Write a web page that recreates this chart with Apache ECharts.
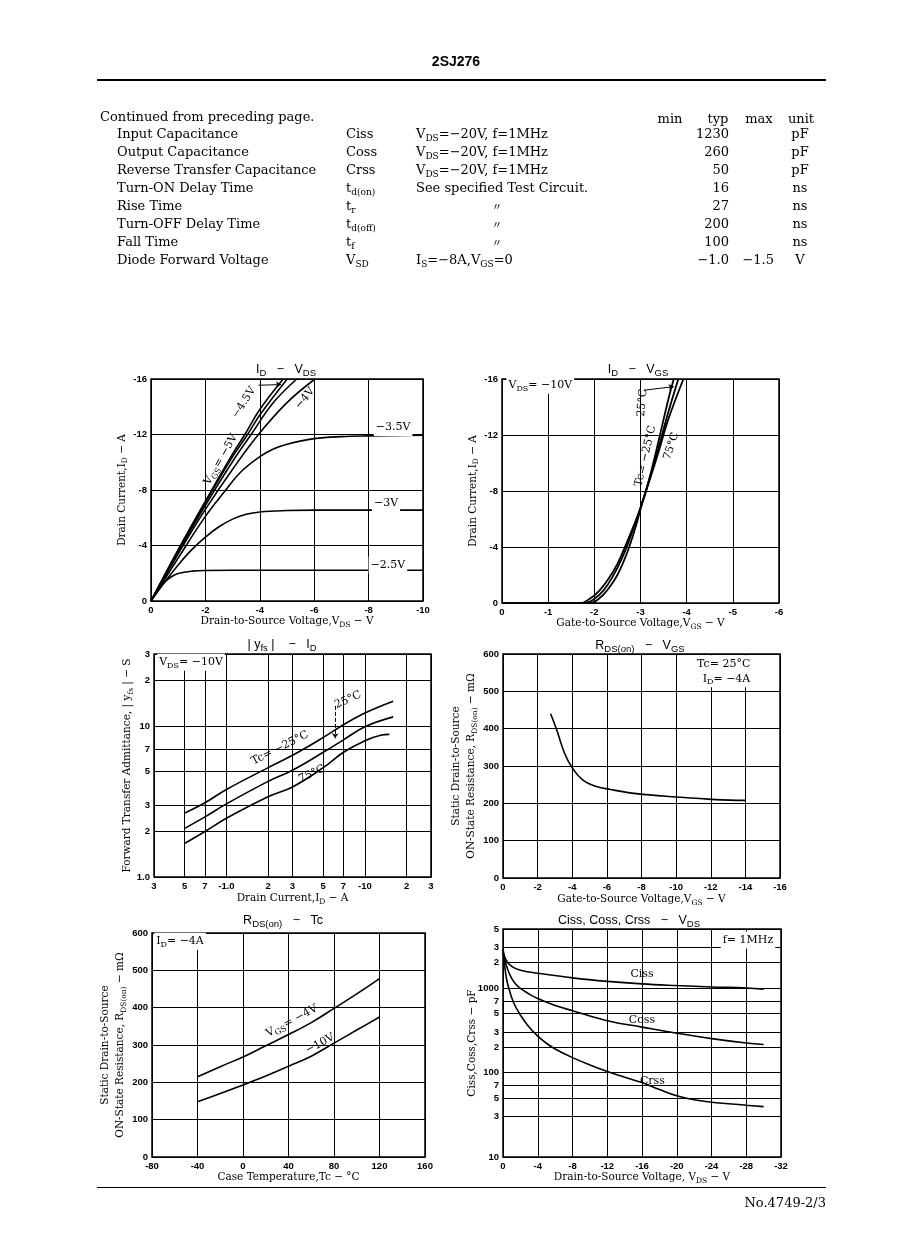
<!DOCTYPE html>
<html><head><meta charset="utf-8">
<script src="https://cdn.jsdelivr.net/npm/echarts/dist/echarts.min.js"></script>
<style>
html,body{margin:0;padding:0;background:#fff;}
#page{position:relative;width:898px;height:1260px;overflow:hidden;background:#fff;}
#chart{position:absolute;left:0;top:0;width:898px;height:1260px;}
.t{position:absolute;font-family:'DejaVu Serif',serif;font-size:13px;line-height:18px;color:#000;white-space:nowrap;}
.t sub{font-size:9px;vertical-align:-3px;line-height:0;}
.r{text-align:right;}
.c{text-align:center;}
.hl{position:absolute;background:#000;}
</style>
</head><body>
<div id="page"><div id="chart"></div></div>
<script>
// ================= DATA =================
// Header table
const tableParams = ["Input Capacitance","Output Capacitance","Reverse Transfer Capacitance","Turn-ON Delay Time","Rise Time","Turn-OFF Delay Time","Fall Time","Diode Forward Voltage"];
const tableSymbols = ["Ciss","Coss","Crss","t<sub>d(on)</sub>","t<sub>r</sub>","t<sub>d(off)</sub>","t<sub>f</sub>","V<sub>SD</sub>"];
const tableConds = ["V<sub>DS</sub>=−20V, f=1MHz","V<sub>DS</sub>=−20V, f=1MHz","V<sub>DS</sub>=−20V, f=1MHz","See specified Test Circuit.","〃","〃","〃","I<sub>S</sub>=−8A,V<sub>GS</sub>=0"];
const tableTyp = ["1230","260","50","16","27","200","100","−1.0"];
const tableMax = ["","","","","","","","−1.5"];
const tableUnit = ["pF","pF","pF","ns","ns","ns","ns","V"];

// Chart 1: ID - VDS  [VDS (V), ID (A)]
const idVdsGs10 = [[0,0],[-1,-3.7],[-2,-7.2],[-3,-10.6],[-3.45,-12],[-4,-13.8],[-4.86,-16]];
const idVdsGs5  = [[0,0],[-1,-3.65],[-2,-7.1],[-3,-10.4],[-3.55,-12],[-4,-13.4],[-5.01,-16]];
const idVdsGs45 = [[0,0],[-1,-3.55],[-2,-6.9],[-3,-10.05],[-3.68,-12],[-4.5,-14.3],[-5.36,-16]];
const idVdsGs4  = [[0,0],[-1,-3.4],[-2,-6.6],[-3,-9.5],[-3.95,-12],[-5,-14.3],[-6.03,-16]];
const idVdsGs35 = [[0,0],[-1,-3.1],[-2,-6.1],[-2.75,-8],[-3.3,-9.3],[-4,-10.4],[-4.5,-10.95],[-5,-11.3],[-6,-11.7],[-7,-11.85],[-8,-11.9],[-10,-11.95]];
const idVdsGs3  = [[0,0],[-0.5,-1.35],[-1,-2.6],[-1.5,-3.7],[-2,-4.6],[-2.5,-5.35],[-3,-5.9],[-3.5,-6.25],[-4,-6.42],[-5,-6.52],[-6,-6.55],[-10,-6.55]];
const idVdsGs25 = [[0,0],[-0.25,-0.75],[-0.5,-1.35],[-0.75,-1.75],[-1,-1.98],[-1.5,-2.15],[-2,-2.2],[-4,-2.22],[-10,-2.22]];

// Chart 2: ID - VGS  [VGS (V), ID (A)]
const idVgsTcM25 = [[0,0],[-1.9,0],[-2.1,-0.3],[-2.3,-1.0],[-2.5,-2.0],[-2.7,-3.5],[-2.9,-5.5],[-3.0,-6.7],[-3.2,-9.0],[-3.4,-11.7],[-3.6,-14.5],[-3.72,-16]];
const idVgsTc25  = [[0,0],[-1.8,0],[-2.0,-0.3],[-2.2,-0.9],[-2.4,-1.9],[-2.6,-3.2],[-2.8,-4.9],[-3.0,-6.8],[-3.2,-8.9],[-3.4,-11.2],[-3.6,-13.6],[-3.82,-16]];
const idVgsTc75  = [[0,0],[-1.7,0],[-1.9,-0.3],[-2.1,-0.85],[-2.3,-1.7],[-2.5,-2.8],[-2.7,-4.3],[-2.9,-5.9],[-3.0,-6.8],[-3.2,-8.8],[-3.4,-10.9],[-3.6,-13.1],[-3.93,-16]];

// Chart 3: |yfs| - ID  [|ID| (A), |yfs| (S)]
const yfsTcM25 = [[0.5,2.65],[0.7,3.1],[1,3.8],[2,5.3],[3,6.4],[5,8.4],[7,10.2],[10,12.2],[16,14.6]];
const yfsTc25  = [[0.5,2.1],[0.7,2.5],[1,3.05],[2,4.3],[3,5.1],[5,6.7],[7,8.1],[10,9.9],[16,11.5]];
const yfsTc75  = [[0.5,1.67],[0.7,2.0],[1,2.45],[2,3.4],[3,3.95],[5,5.3],[7,6.7],[10,8.0],[13,8.7],[15,8.8]];
const yfsXTicks = [0.3,0.5,0.7,1,2,3,5,7,10,20,30];
const yfsXTickLabels = ["3","5","7","-1.0","2","3","5","7","-10","2","3"];
const yfsYTicks = [1,2,3,5,7,10,20,30];
const yfsYTickLabels = ["1.0","2","3","5","7","10","2","3"];

// Chart 4: RDS(on) - VGS  [VGS (V), RDS (mΩ)]
const rdsVgs = [[-2.75,440],[-3.1,397],[-3.55,335],[-4,295],[-4.6,263],[-5.4,245],[-6.2,237],[-7.7,226],[-10,217],[-12.3,210],[-14,208]];

// Chart 5: RDS(on) - Tc  [Tc (°C), RDS (mΩ)]
const rdsTcGs4  = [[-40,215],[-20,242],[0,268],[20,298],[40,328],[60,360],[80,398],[100,437],[120,478]];
const rdsTcGs10 = [[-40,148],[-20,170],[0,193],[20,217],[40,243],[60,270],[80,305],[100,340],[120,375]];

// Chart 6: Ciss, Coss, Crss - VDS  [VDS (V), C (pF)]
const ciss = [[0,2900],[-0.3,2200],[-1,1800],[-2,1620],[-4,1500],[-8,1320],[-12,1200],[-16,1120],[-20,1070],[-24,1030],[-28,1000],[-30,970]];
const coss = [[0,2600],[-0.5,1700],[-1,1300],[-1.5,1100],[-2,990],[-3,850],[-4,750],[-6,620],[-8,540],[-12,410],[-16,345],[-20,292],[-24,252],[-28,224],[-30,215]];
const crss = [[0,2800],[-0.3,1500],[-0.6,1050],[-1.2,680],[-2,480],[-3,345],[-4,270],[-5,222],[-6,190],[-8,150],[-10,123],[-12,103],[-14,88],[-16,76],[-18,63],[-20,53],[-22,47.5],[-24,44.5],[-28,41],[-30,39.5]];
const capYTicks = [10,30,50,70,100,200,300,500,700,1000,2000,3000,5000];
const capYTickLabels = ["10","3","5","7","100","2","3","5","7","1000","2","3","5"];

// ================= HTML header / table =================
const page = document.getElementById('page');
function addText(html, left, top, cls, width){
  const d = document.createElement('div');
  d.className = 't ' + (cls||'');
  d.innerHTML = html;
  d.style.left = left + 'px'; d.style.top = (top - 9) + 'px';
  if (width) d.style.width = width + 'px';
  page.appendChild(d);
}
function addLine(x, y, w, h){
  const d = document.createElement('div'); d.className='hl';
  d.style.left=x+'px'; d.style.top=y+'px'; d.style.width=w+'px'; d.style.height=h+'px';
  page.appendChild(d);
}
(function(){
  const h = document.createElement('div');
  h.style.cssText = "position:absolute;left:0;width:912px;top:53px;text-align:center;font:bold 14px 'Liberation Sans',Arial,sans-serif;color:#000;";
  h.textContent = '2SJ276';
  page.appendChild(h);
  addLine(97, 79, 729, 2);
  addLine(97, 1187, 729, 1);
  addText('No.4749-2/3', 626, 1203, 'r', 200);
  addText('Continued from preceding page.', 100, 117);
  addText('min', 640, 119, 'c', 60);
  addText('typ', 688, 119, 'c', 60);
  addText('max', 729, 119, 'c', 60);
  addText('unit', 771, 119, 'c', 60);
  const rowY = [134,152,170,188,206,224,242,260];
  rowY.forEach((y,i)=>{
    addText(tableParams[i], 117, y);
    addText(tableSymbols[i], 346, y);
    if (tableConds[i] === '〃') addText('<span style="font-family:\'Noto Sans CJK JP\';font-size:10px">〃</span>', 467, y, 'c', 60);
    else addText(tableConds[i], 416, y);
    addText(tableTyp[i], 629, y, 'r', 100);
    if (tableMax[i]) addText(tableMax[i], 674, y, 'r', 100);
    addText(tableUnit[i], 770, y, 'c', 60);
  });
})();

// ================= ECHARTS =================
const SERIF = "'DejaVu Serif', serif";
const SANS = "'Liberation Sans', Arial, sans-serif";
const TICKF = "'Liberation Sans', Arial, sans-serif";
const RICH = {
  a: {fontFamily: SERIF, fontSize: 10.5, color: '#000', lineHeight: 15},
  s: {fontFamily: SERIF, fontSize: 7.5, color: '#000', verticalAlign: 'bottom'}
};
const NOTE_RICH = {
  a: {fontFamily: SERIF, fontSize: 11, color: '#000', lineHeight: 15},
  s: {fontFamily: SERIF, fontSize: 8, color: '#000', verticalAlign: 'bottom'}
};
const TITLE_RICH = {
  a: {fontFamily: SANS, fontSize: 12.5, color: '#000', lineHeight: 16},
  s: {fontFamily: SANS, fontSize: 9.5, color: '#000', verticalAlign: 'bottom'}
};

const gridsPos = [
  {left:151, top:379, width:272, height:222},
  {left:502, top:379, width:277, height:224},
  {left:154, top:654, width:277, height:223},
  {left:503, top:654, width:277, height:224},
  {left:152, top:933, width:273, height:224},
  {left:503, top:929, width:278, height:228}
];
const grid = gridsPos.map(g => Object.assign({show:true, borderColor:'#000', borderWidth:1.5, backgroundColor:'transparent', containLabel:false, outerBoundsMode:'none'}, g));

const labelStyle = {color:'#000', fontSize:9.5, fontWeight:'bold', fontFamily:TICKF, margin:4};
function valAxis(gi, o, name, nameGap){
  return Object.assign({
    type:'value', gridIndex:gi,
    axisLine:{show:false}, axisTick:{show:false},
    splitLine:{show:true, lineStyle:{color:'#000', width:1}},
    axisLabel:Object.assign({}, labelStyle),
    name:name, nameLocation:'middle', nameGap:nameGap,
    nameTextStyle:{fontFamily:SERIF, fontSize:10.5, color:'#000', rich:RICH}
  }, o);
}
function logAxis(gi, o, name, nameGap){
  return Object.assign({
    type:'log', logBase:10, gridIndex:gi,
    axisLine:{show:false}, axisTick:{show:false},
    splitLine:{show:false}, minorSplitLine:{show:false},
    axisLabel:{show:false},
    name:name, nameLocation:'middle', nameGap:nameGap,
    nameTextStyle:{fontFamily:SERIF, fontSize:10.5, color:'#000', rich:RICH}
  }, o);
}

const xAxis = [
  valAxis(0, {min:-10, max:0, interval:2, inverse:true}, '{a|Drain-to-Source Voltage,V}{s|DS}{a| − V}', 12),
  valAxis(1, {min:-6, max:0, interval:1, inverse:true}, '{a|Gate-to-Source Voltage,V}{s|GS}{a| − V}', 12),
  logAxis(2, {min:0.3, max:30}, '{a|Drain Current,I}{s|D}{a| − A}', 14),
  valAxis(3, {min:-16, max:0, interval:2, inverse:true}, '{a|Gate-to-Source Voltage,V}{s|GS}{a| − V}', 14),
  valAxis(4, {min:-80, max:160, interval:40}, '{a|Case Temperature,Tc − °C}', 12),
  valAxis(5, {min:-32, max:0, interval:4, inverse:true}, '{a|Drain-to-Source Voltage, V}{s|DS}{a| − V}', 12)
];
const yAxis = [
  valAxis(0, {min:-16, max:0, interval:4, inverse:true}, '{a|Drain Current,I}{s|D}{a| − A}', 19),
  valAxis(1, {min:-16, max:0, interval:4, inverse:true}, '{a|Drain Current,I}{s|D}{a| − A}', 20),
  logAxis(2, {min:1, max:30}, '{a|Forward Transfer Admittance, | y}{s|fs}{a| | − S}', 19),
  valAxis(3, {min:0, max:600, interval:100}, '{a|Static Drain-to-Source}\n{a|ON-State Resistance, R}{s|DS(on)}{a| − mΩ}', 24),
  valAxis(4, {min:0, max:600, interval:100}, '{a|Static Drain-to-Source}\n{a|ON-State Resistance, R}{s|DS(on)}{a| − mΩ}', 24),
  logAxis(5, {min:10, max:5000}, '{a|Ciss,Coss,Crss − pF}', 23)
];

function gridMarks(xVals, xLabels, xPos, yVals, yLabels, yPos){
  const data = [];
  (xVals||[]).forEach((v,i)=>data.push({xAxis:v, label:{formatter:xLabels[i], position:xPos}}));
  (yVals||[]).forEach((v,i)=>data.push({yAxis:v, label:{formatter:yLabels[i], position:yPos}}));
  return {silent:true, symbol:['none','none'], animation:false,
    lineStyle:{color:'#000', width:1, type:'solid'},
    label:{show:true, color:'#000', fontSize:9.5, fontWeight:'bold', fontFamily:TICKF, distance:4},
    emphasis:{disabled:true}, data:data};
}
function note(coord, text, rotate, extra){
  return {coord:coord, value:0, symbol:'circle', symbolSize:0,
    label:Object.assign({show:true, position:'inside', formatter:text, rotate:rotate||0, color:'#000',
      fontFamily:SERIF, fontSize:11, rich:NOTE_RICH}, extra||{})};
}
function notes(list){
  return {silent:true, symbol:'circle', symbolSize:0, itemStyle:{color:'transparent'}, emphasis:{disabled:true}, data:list, animation:false};
}
function arrow(from, to, curv, dashed){
  return {silent:true, symbol:['none','arrow'], symbolSize:5, animation:false,
    lineStyle:{color:'#000', width:1, type:dashed?'dashed':'solid', curveness:curv},
    label:{show:false}, emphasis:{disabled:true},
    data:[[{coord:from},{coord:to}]]};
}
function curve(gi, name, data, extra){
  return Object.assign({type:'line', name:name, xAxisIndex:gi, yAxisIndex:gi, data:data,
    showSymbol:false, symbol:'none', smooth:0.4,
    lineStyle:{color:'#000', width:1.6}, silent:true, animation:false}, extra||{});
}
const WHITE = {backgroundColor:'#fff', padding:[1,2,1,2]};

const series = [
  // chart 1
  curve(0,'VGS=-10V',idVdsGs10),
  curve(0,'VGS=-5V',idVdsGs5, {markPoint:notes([
    note([-2.57,-10.2],'{a|V}{s|GS}{a|= −5V}',60),
    note([-3.42,-14.3],'{a|−4.5V}',57),
    note([-5.66,-14.6],'{a|−4V}',50),
    note([-8.9,-12.5],'{a|−3.5V}',0,WHITE),
    note([-8.64,-7.06],'{a|−3V}',0,WHITE),
    note([-8.71,-2.6],'{a|−2.5V}',0,WHITE)
  ])}),
  curve(0,'VGS=-4.5V',idVdsGs45, {markLine:arrow([-3.95,-15.55],[-4.78,-15.6],-0.5,false)}),
  curve(0,'VGS=-4V',idVdsGs4),
  curve(0,'VGS=-3.5V',idVdsGs35),
  curve(0,'VGS=-3V',idVdsGs3),
  curve(0,'VGS=-2.5V',idVdsGs25),
  // chart 2
  curve(1,'Tc=-25°C',idVgsTcM25, {lineStyle:{color:'#000',width:1.8}, markPoint:notes([
    note([-0.83,-15.55],'{a|V}{s|DS}{a|= −10V}',0,WHITE),
    note([-3.04,-14.3],'{a|25°C}',85),
    note([-3.11,-10.5],'{a|Tc= −25°C}',77),
    note([-3.67,-11.2],'{a|75°C}',72)
  ])}),
  curve(1,'Tc=25°C',idVgsTc25, {lineStyle:{color:'#000',width:1.8}, markLine:arrow([-3.07,-15.2],[-3.72,-15.45],-0.5,false)}),
  curve(1,'Tc=75°C',idVgsTc75, {lineStyle:{color:'#000',width:1.8}}),
  // chart 3
  curve(2,'Tc=-25°C',yfsTcM25, {markLine:gridMarks(yfsXTicks,yfsXTickLabels,'start',yfsYTicks,yfsYTickLabels,'start'),
    markPoint:notes([
      note([0.555,26.5],'{a|V}{s|DS}{a|= −10V}',0,WHITE),
      note([2.44,7.15],'{a|Tc= −25°C}',27),
      note([7.55,14.9],'{a|25°C}',25),
      note([4.14,4.81],'{a|75°C}',25)
    ])}),
  curve(2,'Tc=25°C',yfsTc25, {markLine:arrow([6.1,13.6],[6.1,8.3],0.35,true)}),
  curve(2,'Tc=75°C',yfsTc75),
  // chart 4
  curve(3,'RDS(on)',rdsVgs, {markPoint:notes([
    note([-14.4,554],'{a|Tc= 25°C}\n{a|I}{s|D}{a|= −4A}',0,Object.assign({align:'right'},WHITE))
  ])}),
  // chart 5
  curve(4,'VGS=-4V',rdsTcGs4, {markPoint:notes([
    note([-55.4,578],'{a|I}{s|D}{a|= −4A}',0,WHITE),
    note([43,364],'{a|V}{s|GS}{a|= −4V}',28),
    note([67.7,303],'{a|−10V}',28)
  ])}),
  curve(4,'VGS=-10V',rdsTcGs10),
  // chart 6
  curve(5,'Ciss',ciss, {markLine:gridMarks(null,null,'start',capYTicks,capYTickLabels,'end'),
    markPoint:notes([
      note([-28.2,3700],'{a|f= 1MHz}',0,WHITE),
      note([-16,1450],'{a|Ciss}'),
      note([-16,418],'{a|Coss}'),
      note([-17.2,78],'{a|Crss}')
    ])}),
  curve(5,'Coss',coss),
  curve(5,'Crss',crss)
];

function title(x, y, text){
  return {type:'text', x:x, y:y, silent:true, style:{text:text, rich:TITLE_RICH, align:'center', verticalAlign:'middle', fill:'#000', font:'12.5px '+SANS}};
}
const graphic = [
  title(286,370,'{a|I}{s|D}{a|   −   V}{s|DS}'),
  title(638,370,'{a|I}{s|D}{a|   −   V}{s|GS}'),
  title(282,645,'{a|| y}{s|fs}{a| |    −   I}{s|D}'),
  title(640,646,'{a|R}{s|DS(on)}{a|   −   V}{s|GS}'),
  title(283,921,'{a|R}{s|DS(on)}{a|   −   Tc}'),
  title(629,921,'{a|Ciss, Coss, Crss   −   V}{s|DS}')
];

const chart = echarts.init(document.getElementById('chart'), null, {renderer:'canvas', width:898, height:1260});
chart.setOption({
  backgroundColor:'#fff',
  animation:false,
  textStyle:{fontFamily:SERIF, color:'#000'},
  grid:grid, xAxis:xAxis, yAxis:yAxis, series:series, graphic:graphic,
  tooltip:{show:false}, legend:{show:false}
});
</script>
</body></html>
